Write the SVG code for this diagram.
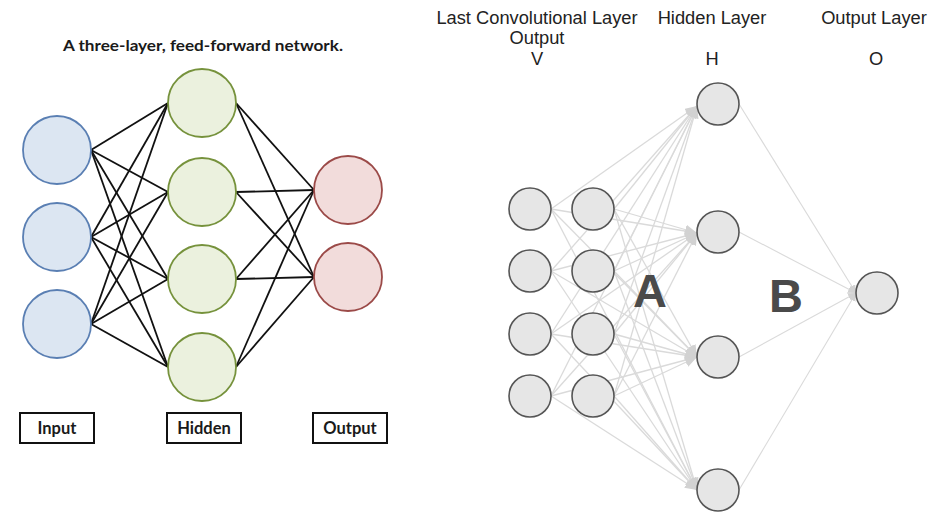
<svg xmlns="http://www.w3.org/2000/svg" width="946" height="523" viewBox="0 0 946 523">
<style>
.bg{fill:#fff}
.lt{font-family:Lato,"Open Sans","Liberation Sans",sans-serif;font-weight:700;fill:#1a1a1a;text-anchor:middle}
.in{fill:#dce6f2;stroke:#5a7fb3;stroke-width:1.8}
.hd{fill:#ebf1de;stroke:#76923c;stroke-width:1.8}
.ou{fill:#f2dcdb;stroke:#9b4a48;stroke-width:1.8}
.box{fill:#fff;stroke:#111;stroke-width:2}
.ke{stroke:#111;stroke-width:1.8;fill:none}
.rt{font-family:"Liberation Sans",Arial,sans-serif;font-size:18.3px;fill:#222;text-anchor:middle}
.big{font-family:"Liberation Sans",Arial,sans-serif;font-size:47px;font-weight:700;fill:#4a4a4a;text-anchor:middle}
.gn{fill:#e6e6e6;stroke:#555;stroke-width:1.6}
.ge{stroke:#dadada;stroke-width:1.3;fill:none;marker-end:url(#ah)}
.gb{stroke:#dadada;stroke-width:1.1;fill:none;marker-end:url(#ah2)}
</style>
<defs>
<marker id="ah" markerUnits="userSpaceOnUse" markerWidth="12" markerHeight="10" refX="12" refY="5" orient="auto"><path d="M0,0 L12,5 L0,10 z" fill="#d2d2d2"/></marker>
<marker id="ah2" markerUnits="userSpaceOnUse" markerWidth="8" markerHeight="8" refX="8" refY="4" orient="auto"><path d="M0,0 L8,4 L0,8 z" fill="#d2d2d2"/></marker>
</defs>
<rect class="bg" x="0" y="0" width="946" height="523"/>

<text class="lt" x="203" y="51" font-size="16" textLength="280" lengthAdjust="spacingAndGlyphs">A three-layer, feed-forward network.</text>

<g id="left-connectors">
<line class="ke" x1="91" y1="150" x2="168" y2="103"/>
<line class="ke" x1="91" y1="150" x2="168" y2="192"/>
<line class="ke" x1="91" y1="150" x2="168" y2="279"/>
<line class="ke" x1="91" y1="150" x2="168" y2="367"/>
<line class="ke" x1="91" y1="237" x2="168" y2="103"/>
<line class="ke" x1="91" y1="237" x2="168" y2="192"/>
<line class="ke" x1="91" y1="237" x2="168" y2="279"/>
<line class="ke" x1="91" y1="237" x2="168" y2="367"/>
<line class="ke" x1="91" y1="324" x2="168" y2="103"/>
<line class="ke" x1="91" y1="324" x2="168" y2="192"/>
<line class="ke" x1="91" y1="324" x2="168" y2="279"/>
<line class="ke" x1="91" y1="324" x2="168" y2="367"/>
<line class="ke" x1="236" y1="103" x2="314" y2="190"/>
<line class="ke" x1="236" y1="103" x2="314" y2="277"/>
<line class="ke" x1="236" y1="192" x2="314" y2="190"/>
<line class="ke" x1="236" y1="192" x2="314" y2="277"/>
<line class="ke" x1="236" y1="279" x2="314" y2="190"/>
<line class="ke" x1="236" y1="279" x2="314" y2="277"/>
<line class="ke" x1="236" y1="367" x2="314" y2="190"/>
<line class="ke" x1="236" y1="367" x2="314" y2="277"/>
</g>

<g id="input-1"><circle class="in" cx="57" cy="150" r="34"/></g>
<g id="input-2"><circle class="in" cx="57" cy="237" r="34"/></g>
<g id="input-3"><circle class="in" cx="57" cy="324" r="34"/></g>
<g id="hidden-1"><circle class="hd" cx="202" cy="103" r="34"/></g>
<g id="hidden-2"><circle class="hd" cx="202" cy="192" r="34"/></g>
<g id="hidden-3"><circle class="hd" cx="202" cy="279" r="34"/></g>
<g id="hidden-4"><circle class="hd" cx="202" cy="367" r="34"/></g>
<g id="output-1"><circle class="ou" cx="348" cy="190" r="34"/></g>
<g id="output-2"><circle class="ou" cx="348" cy="277" r="34"/></g>

<g id="label-input"><rect class="box" x="20" y="413" width="74" height="30"/><text class="lt" x="57" y="434" font-size="16.5">Input</text></g>
<g id="label-hidden"><rect class="box" x="167" y="413" width="74" height="30"/><text class="lt" x="204" y="434" font-size="16.5">Hidden</text></g>
<g id="label-output"><rect class="box" x="313" y="413" width="74" height="30"/><text class="lt" x="350" y="434" font-size="16.5">Output</text></g>

<text class="rt" x="537" y="24">Last Convolutional Layer</text>
<text class="rt" x="537" y="44">Output</text>
<text class="rt" x="537" y="65">V</text>
<text class="rt" x="712" y="24">Hidden Layer</text>
<text class="rt" x="712" y="65">H</text>
<text class="rt" x="874" y="24">Output Layer</text>
<text class="rt" x="876" y="65">O</text>

<g id="right-connectors">
<line class="ge" x1="551" y1="209" x2="697" y2="106"/>
<line class="ge" x1="551" y1="209" x2="697" y2="233"/>
<line class="ge" x1="551" y1="209" x2="697" y2="357"/>
<line class="ge" x1="551" y1="209" x2="697" y2="490"/>
<line class="ge" x1="551" y1="271" x2="697" y2="106"/>
<line class="ge" x1="551" y1="271" x2="697" y2="233"/>
<line class="ge" x1="551" y1="271" x2="697" y2="357"/>
<line class="ge" x1="551" y1="271" x2="697" y2="490"/>
<line class="ge" x1="551" y1="334" x2="697" y2="106"/>
<line class="ge" x1="551" y1="334" x2="697" y2="233"/>
<line class="ge" x1="551" y1="334" x2="697" y2="357"/>
<line class="ge" x1="551" y1="334" x2="697" y2="490"/>
<line class="ge" x1="551" y1="396" x2="697" y2="106"/>
<line class="ge" x1="551" y1="396" x2="697" y2="233"/>
<line class="ge" x1="551" y1="396" x2="697" y2="357"/>
<line class="ge" x1="551" y1="396" x2="697" y2="490"/>
<line class="ge" x1="614" y1="209" x2="697" y2="106"/>
<line class="ge" x1="614" y1="209" x2="697" y2="233"/>
<line class="ge" x1="614" y1="209" x2="697" y2="357"/>
<line class="ge" x1="614" y1="209" x2="697" y2="490"/>
<line class="ge" x1="614" y1="271" x2="697" y2="106"/>
<line class="ge" x1="614" y1="271" x2="697" y2="233"/>
<line class="ge" x1="614" y1="271" x2="697" y2="357"/>
<line class="ge" x1="614" y1="271" x2="697" y2="490"/>
<line class="ge" x1="614" y1="334" x2="697" y2="106"/>
<line class="ge" x1="614" y1="334" x2="697" y2="233"/>
<line class="ge" x1="614" y1="334" x2="697" y2="357"/>
<line class="ge" x1="614" y1="334" x2="697" y2="490"/>
<line class="ge" x1="614" y1="396" x2="697" y2="106"/>
<line class="ge" x1="614" y1="396" x2="697" y2="233"/>
<line class="ge" x1="614" y1="396" x2="697" y2="357"/>
<line class="ge" x1="614" y1="396" x2="697" y2="490"/>
<line class="gb" x1="739" y1="104" x2="856" y2="293"/>
<line class="gb" x1="739" y1="232" x2="856" y2="293"/>
<line class="gb" x1="739" y1="357" x2="856" y2="293"/>
<line class="gb" x1="739" y1="490" x2="856" y2="293"/>
</g>

<g id="v-1"><circle class="gn" cx="530" cy="209" r="21"/></g>
<g id="v-2"><circle class="gn" cx="530" cy="271" r="21"/></g>
<g id="v-3"><circle class="gn" cx="530" cy="334" r="21"/></g>
<g id="v-4"><circle class="gn" cx="530" cy="396" r="21"/></g>
<g id="v-5"><circle class="gn" cx="593" cy="209" r="21"/></g>
<g id="v-6"><circle class="gn" cx="593" cy="271" r="21"/></g>
<g id="v-7"><circle class="gn" cx="593" cy="334" r="21"/></g>
<g id="v-8"><circle class="gn" cx="593" cy="396" r="21"/></g>
<g id="h-1"><circle class="gn" cx="718" cy="104" r="21"/></g>
<g id="h-2"><circle class="gn" cx="718" cy="232" r="21"/></g>
<g id="h-3"><circle class="gn" cx="718" cy="357" r="21"/></g>
<g id="h-4"><circle class="gn" cx="718" cy="490" r="21"/></g>
<g id="o-1"><circle class="gn" cx="877" cy="293" r="21"/></g>

<text class="big" x="650" y="307">A</text>
<text class="big" x="786" y="312">B</text>
</svg>
